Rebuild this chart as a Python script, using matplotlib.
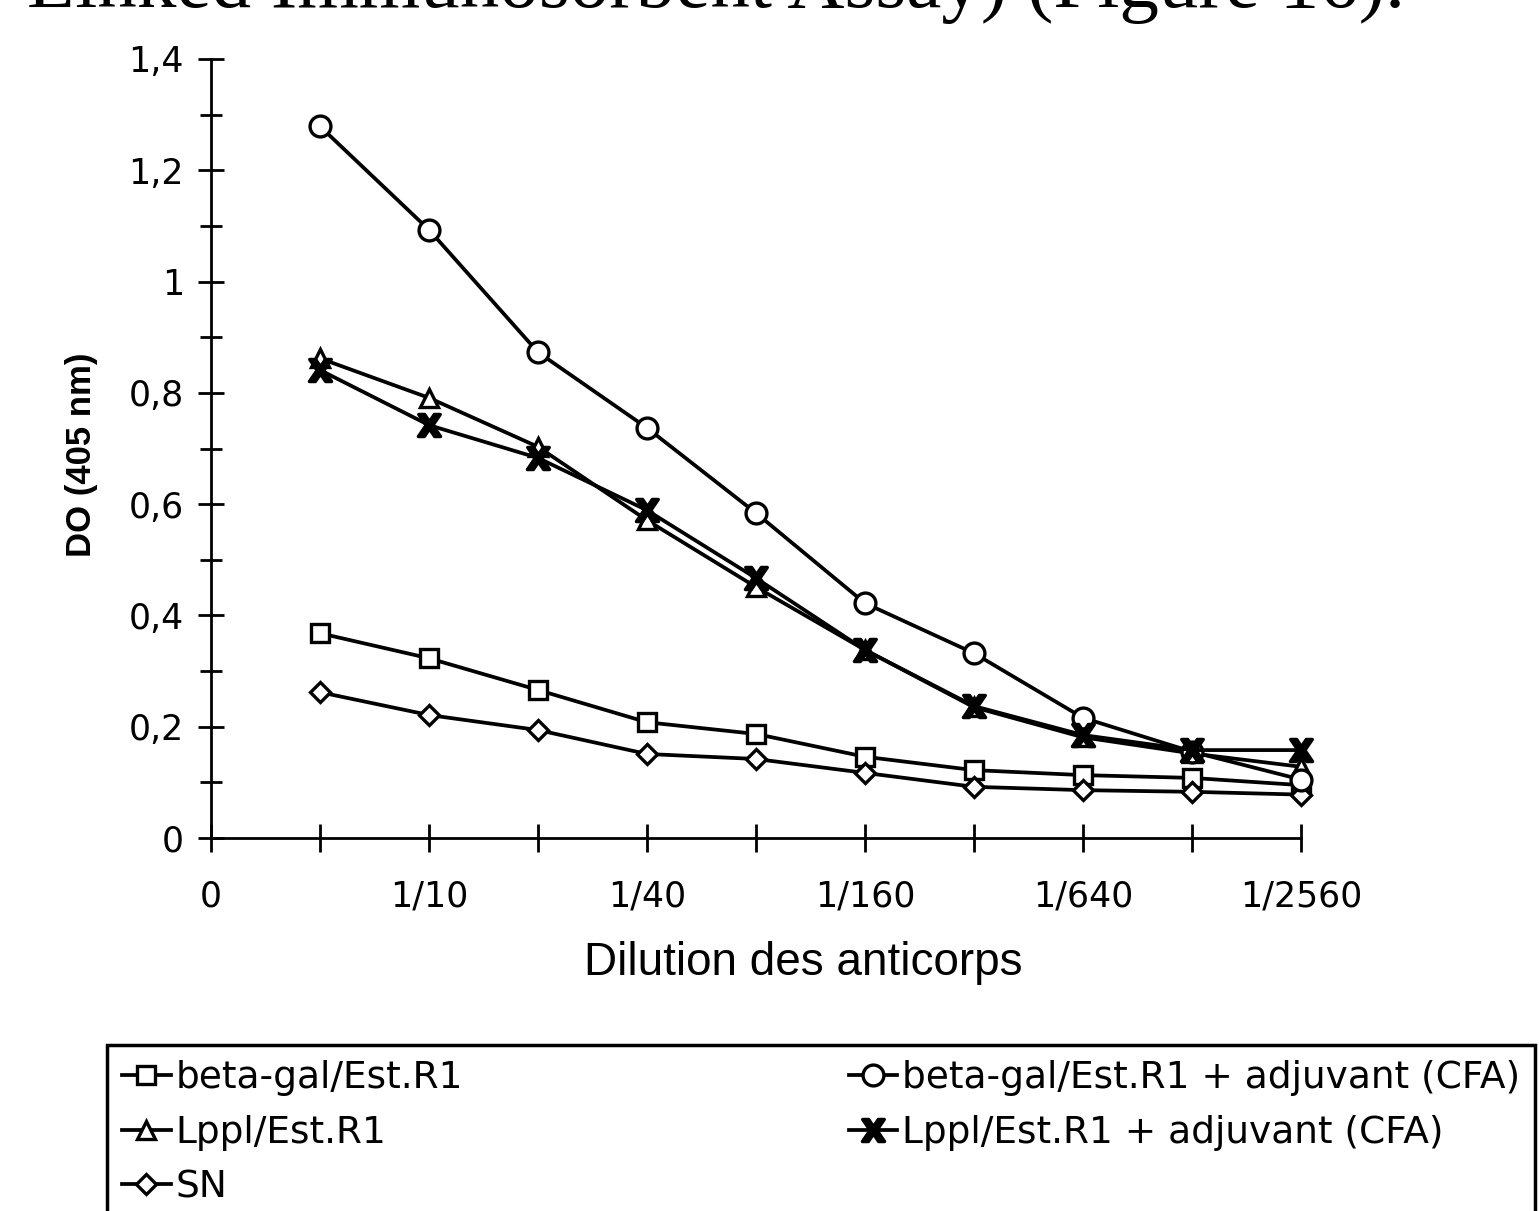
import matplotlib
matplotlib.use('Agg')
import matplotlib.pyplot as plt

# dilution steps 1..10 (0 is the origin)
steps = [1, 2, 3, 4, 5, 6, 7, 8, 9, 10]
xtick_labels = ['0', '', '1/10', '', '1/40', '', '1/160', '', '1/640', '', '1/2560']
ytick_pos = [0, 0.2, 0.4, 0.6, 0.8, 1.0, 1.2, 1.4]
ytick_labels = ['0', '0,2', '0,4', '0,6', '0,8', '1', '1,2', '1,4']

betagal = [0.368, 0.323, 0.266, 0.208, 0.187, 0.146, 0.122, 0.113, 0.108, 0.095]
lppl = [0.862, 0.791, 0.703, 0.571, 0.451, 0.338, 0.235, 0.181, 0.152, 0.128]
sn = [0.262, 0.221, 0.194, 0.151, 0.142, 0.117, 0.092, 0.086, 0.083, 0.078]
betagal_cfa = [1.279, 1.093, 0.873, 0.737, 0.584, 0.422, 0.332, 0.216, 0.155, 0.105]
lppl_cfa = [0.841, 0.742, 0.683, 0.589, 0.467, 0.338, 0.237, 0.185, 0.158, 0.158]

W, H = 1539, 1211
fig = plt.figure(figsize=(W / 100, H / 100), dpi=100)
ax = fig.add_axes([211 / W, 1 - 838 / H, 1090 / W, 779 / H])

series = [
    (betagal, 's', 13, 'beta-gal/Est.R1'),
    (lppl, '^', 13, 'Lppl/Est.R1'),
    (sn, 'D', 10, 'SN'),
    (betagal_cfa, 'o', 15, 'beta-gal/Est.R1 + adjuvant (CFA)'),
    (lppl_cfa, '$\\mathbf{X}$', 16, 'Lppl/Est.R1 + adjuvant (CFA)'),
]
for vals, mk, ms, lab in series:
    filled = 'k' if mk.startswith('$') else 'white'
    ax.plot(steps, vals, color='black', lw=2.7, marker=mk, markersize=ms,
            markerfacecolor=filled, markeredgecolor='black', markeredgewidth=2.4,
            label=lab, clip_on=False, zorder=3)

ax.set_xlim(0, 10)
ax.set_ylim(0, 1.4)
for s in ['top', 'right']:
    ax.spines[s].set_visible(False)
for s in ['left', 'bottom']:
    ax.spines[s].set_linewidth(2)

ax.set_xticks(range(0, 11))
ax.set_xticklabels(xtick_labels)
ax.tick_params(axis='x', direction='inout', length=20, width=2, pad=20, labelsize=25)

ax.set_yticks(ytick_pos)
ax.set_yticklabels(ytick_labels)
ax.set_yticks([0.1, 0.3, 0.5, 0.7, 0.9, 1.1, 1.3], minor=True)
ax.tick_params(axis='y', which='major', direction='inout', length=19, width=2, pad=10, labelsize=25)
ax.tick_params(axis='y', which='minor', direction='inout', length=16, width=2)

fig.text(803 / W, 1 - 963 / H, 'Dilution des anticorps', ha='center', va='center',
         fontsize=33, family='Liberation Sans')
fig.text(82 / W, 1 - 455 / H, 'DO (405 nm)', ha='center', va='center', rotation=90,
         fontsize=25, fontweight='bold', family='Liberation Sans')

# caption line from the page above, cut off by the crop
fig.text(27 / W, 1 - 7 / H, 'Linked Immunosorbent Assay) (Figure 16).', ha='left',
         va='baseline', fontsize=57, family='Liberation Serif')

leg = fig.legend(loc='upper left', bbox_to_anchor=(107 / W, 1 - 1045 / H, 1428 / W, 0),
                 mode='expand', ncol=2, fontsize=27, handlelength=1.3, handletextpad=0.12,
                 labelspacing=0.5, borderpad=0.4, fancybox=False, edgecolor='black',
                 borderaxespad=0, framealpha=1)
leg.get_frame().set_linewidth(2.5)

fig.savefig('out.png', dpi=100)
